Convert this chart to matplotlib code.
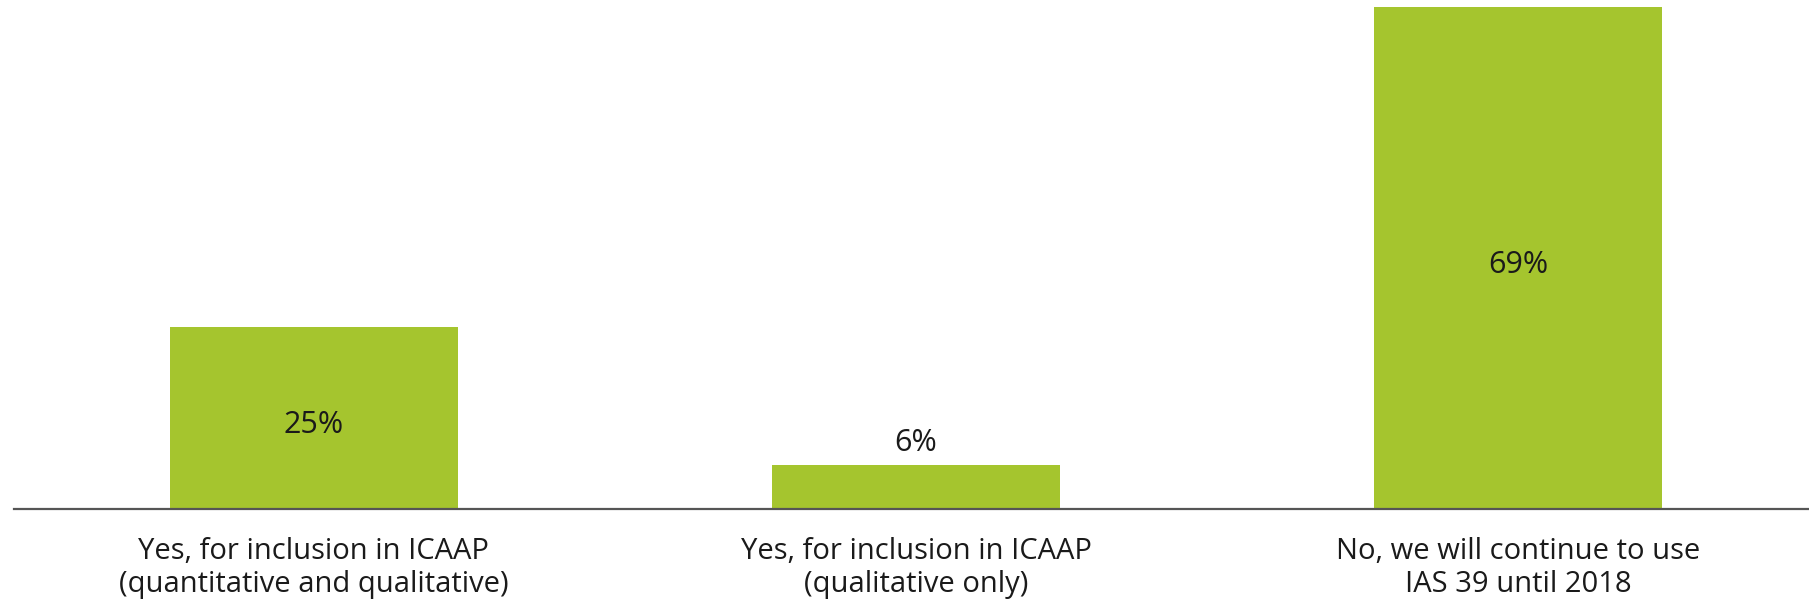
import matplotlib.pyplot as plt

# Survey answers and share of respondents (%)
categories = ['Yes, for inclusion in ICAAP\n(quantitative and qualitative)',
              'Yes, for inclusion in ICAAP\n(qualitative only)',
              'No, we will continue to use\nIAS 39 until 2018']
values = [25, 6, 69]
value_labels = ['25%', '6%', '69%']

plt.rcParams['font.family'] = ['Open Sans', 'DejaVu Sans']

fig = plt.figure(figsize=(18.09, 6.08), dpi=100)
ax = fig.add_axes([14 / 1809, 1 - 509 / 608, 1 - 14 / 1809, 509 / 608])

x = range(len(values))
bars = ax.bar(x, values, width=0.478, color='#A5C52E')

# Labels inside the bars, or above if the bar is short
for bar, v, lab in zip(bars, values, value_labels):
    cx = bar.get_x() + bar.get_width() / 2
    if v > 10:
        ax.text(cx, v / 2 - 1.0, lab, ha='center', va='center',
                fontsize=22, color='#1a1a1a')
    else:
        ax.text(cx, v + 3.1, lab, ha='center', va='center',
                fontsize=22, color='#1a1a1a')

ax.set_xlim(-0.498, 2.483)
ax.set_ylim(0, 69.9)

for s in ['top', 'right', 'left']:
    ax.spines[s].set_visible(False)
ax.spines['bottom'].set_color('#555555')
ax.spines['bottom'].set_linewidth(1.6)

ax.set_yticks([])
ax.set_xticks(list(x))
ax.set_xticklabels(categories, fontsize=21, color='#1a1a1a', linespacing=1.2)
ax.tick_params(axis='x', length=0, pad=20)

fig.savefig('out.png', dpi=100)
